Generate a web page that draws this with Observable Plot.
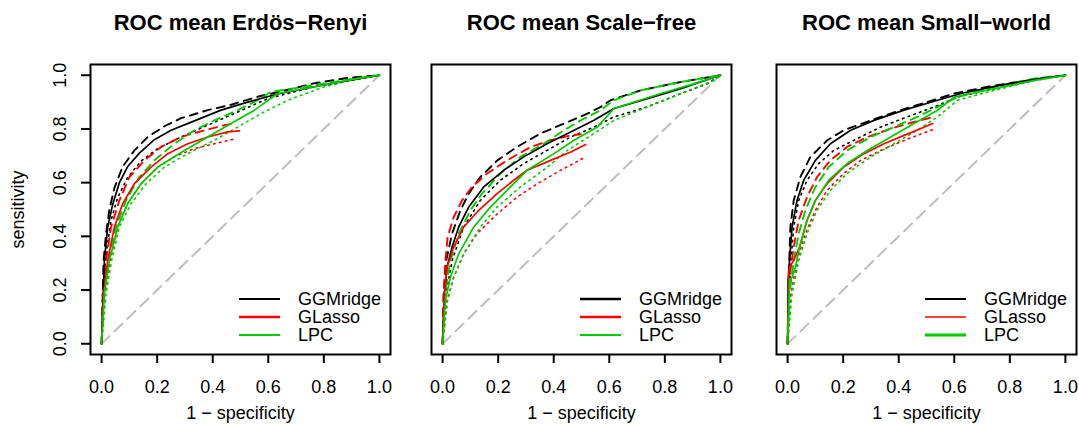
<!DOCTYPE html>
<html><head><meta charset="utf-8">
<script src="https://cdn.jsdelivr.net/npm/d3@7"></script>
<script src="https://cdn.jsdelivr.net/npm/@observablehq/plot@0.6"></script>
<style>
body{margin:0;background:#fff;}
#wrap{position:relative;width:1079px;height:425px;overflow:hidden;background:#fff;}
#wrap svg{position:absolute;top:0;}
</style></head><body><div id="wrap"></div>
<script>
// ---------- data ----------
const titles = ["ROC mean Erdös−Renyi", "ROC mean Scale−free", "ROC mean Small−world"];
const methods = ["GGMridge", "GLasso", "LPC"];
const methodColors = ["#000000", "#FF0000", "#00CD00"];
const lineStyles = ["solid", "dashed", "dotted"];
const xTicks = [0, 0.2, 0.4, 0.6, 0.8, 1.0];
const yTicks = [0, 0.2, 0.4, 0.6, 0.8, 1.0];
const xLabel = "1 − specificity";
const yLabel = "sensitivity";
const chanceLine = [0, 1];

// curves: [1 - specificity, sensitivity]
// Erdös-Renyi
const er_GGMridge_solid = [[0,0],[.010,.31],[.022,.435],[.040,.52],[.064,.60],[.094,.66],[.136,.71],[.190,.76],[.250,.795],[.334,.83],[.430,.87],[.526,.90],[.634,.93],[.766,.957],[.886,.98],[1,1]];
const er_GGMridge_dashed = [[0,0],[.007,.31],[.016,.41],[.028,.50],[.046,.58],[.076,.66],[.118,.72],[.166,.77],[.226,.81],[.286,.84],[.382,.87],[.466,.89],[.562,.92],[.646,.94],[.766,.97],[.886,.99],[1,1]];
const er_GGMridge_dotted = [[0,0],[.004,.19],[.016,.335],[.034,.46],[.058,.545],[.094,.62],[.142,.68],[.202,.727],[.286,.77],[.382,.814],[.490,.863],[.598,.913],[.766,.957],[1,1]];
const er_GLasso_solid = [[0,0],[.007,.186],[.022,.31],[.046,.435],[.076,.522],[.118,.596],[.178,.658],[.238,.708],[.310,.745],[.382,.770],[.454,.789],[.496,.793]];
const er_GLasso_dashed = [[0,0],[.005,.186],[.016,.31],[.034,.435],[.064,.534],[.100,.621],[.154,.683],[.214,.733],[.286,.770],[.370,.795],[.442,.814],[.478,.820]];
const er_GLasso_dotted = [[0,0],[.012,.186],[.031,.31],[.058,.435],[.094,.522],[.142,.596],[.202,.658],[.262,.696],[.334,.727],[.406,.745],[.484,.764]];
const er_LPC_solid = [[0,0],[.010,.186],[.028,.31],[.058,.435],[.094,.522],[.142,.596],[.202,.658],[.298,.720],[.382,.770],[.466,.820],[.550,.870],[.634,.932],[.766,.957],[.886,.981],[1,1]];
const er_LPC_dashed = [[0,0],[.007,.186],[.024,.31],[.052,.435],[.088,.534],[.136,.621],[.190,.683],[.262,.745],[.334,.795],[.406,.832],[.490,.870],[.562,.907],[.610,.938],[.766,.963],[.910,.988],[1,1]];
const er_LPC_dotted = [[0,0],[.016,.186],[.036,.31],[.064,.435],[.106,.522],[.160,.596],[.226,.658],[.310,.708],[.406,.758],[.490,.807],[.574,.857],[.670,.907],[.802,.957],[.922,.988],[1,1]];
// Scale-free
const sf_GGMridge_solid = [[0,0],[.006,.186],[.016,.286],[.034,.360],[.058,.435],[.094,.509],[.148,.584],[.220,.646],[.292,.696],[.376,.745],[.461,.789],[.545,.832],[.617,.876],[.737,.913],[.858,.950],[1,1]];
const sf_GGMridge_dashed = [[0,0],[.004,.186],[.013,.31],[.034,.41],[.064,.497],[.094,.559],[.136,.621],[.197,.683],[.268,.733],[.352,.783],[.437,.820],[.521,.857],[.569,.882],[.605,.907],[.714,.944],[.858,.975],[1,1]];
const sf_GGMridge_dotted = [[0,0],[.013,.186],[.034,.31],[.076,.435],[.136,.534],[.208,.609],[.292,.671],[.376,.720],[.461,.770],[.545,.807],[.617,.845],[.737,.882],[.858,.932],[.954,.969],[1,1]];
const sf_GLasso_solid = [[0,0],[.006,.186],[.016,.286],[.040,.360],[.076,.435],[.130,.497],[.196,.559],[.256,.609],[.304,.646],[.389,.683],[.461,.714],[.515,.742]];
const sf_GLasso_dashed = [[0,0],[.004,.186],[.010,.31],[.018,.397],[.040,.472],[.070,.534],[.106,.584],[.160,.634],[.232,.683],[.317,.733],[.389,.758],[.461,.776],[.497,.780]];
const sf_GLasso_dotted = [[0,0],[.016,.161],[.040,.248],[.076,.335],[.124,.410],[.197,.484],[.269,.547],[.341,.596],[.425,.646],[.515,.696]];
const sf_LPC_solid = [[0,0],[.010,.161],[.028,.248],[.058,.335],[.112,.435],[.172,.509],[.244,.584],[.304,.646],[.401,.708],[.473,.758],[.557,.807],[.617,.876],[.786,.932],[.906,.969],[1,1]];
const sf_LPC_dashed = [[0,0],[.008,.186],[.028,.31],[.058,.41],[.100,.497],[.142,.559],[.208,.634],[.280,.696],[.364,.745],[.437,.795],[.497,.832],[.569,.870],[.617,.907],[.714,.944],[.858,.975],[1,1]];
const sf_LPC_dotted = [[0,0],[.018,.161],[.040,.248],[.076,.335],[.136,.435],[.196,.509],[.280,.584],[.377,.658],[.449,.720],[.545,.783],[.617,.832],[.737,.882],[.858,.932],[.978,.981],[1,1]];
// Small-world
const sw_GGMridge_solid = [[0,0],[.002,.236],[.007,.310],[.016,.435],[.034,.534],[.058,.609],[.100,.683],[.154,.745],[.227,.795],[.311,.832],[.419,.870],[.540,.907],[.624,.932],[.769,.963],[.913,.988],[1,1]];
const sw_GGMridge_dashed = [[0,0],[.004,.248],[.010,.435],[.022,.534],[.046,.621],[.082,.696],[.143,.758],[.202,.795],[.299,.832],[.407,.870],[.504,.901],[.600,.932],[.720,.957],[.865,.981],[1,1]];
const sw_GGMridge_dotted = [[0,0],[.005,.186],[.012,.310],[.022,.435],[.040,.534],[.070,.609],[.112,.671],[.166,.720],[.251,.764],[.335,.807],[.431,.845],[.528,.882],[.612,.919],[.745,.950],[.889,.981],[1,1]];
const sw_GLasso_solid = [[0,0],[.004,.261],[.007,.286],[.022,.310],[.043,.360],[.070,.460],[.100,.534],[.142,.596],[.202,.658],[.275,.708],[.347,.745],[.419,.776],[.478,.801],[.522,.820]];
const sw_GLasso_dashed = [[0,0],[.005,.186],[.010,.273],[.022,.360],[.040,.460],[.070,.547],[.106,.621],[.154,.683],[.214,.733],[.287,.770],[.371,.801],[.455,.826],[.516,.842]];
const sw_GLasso_dotted = [[0,0],[.012,.186],[.034,.310],[.064,.410],[.100,.497],[.142,.571],[.202,.634],[.263,.683],[.335,.720],[.407,.752],[.467,.776],[.522,.797]];
const sw_LPC_solid = [[0,0],[.007,.236],[.016,.248],[.028,.286],[.043,.360],[.070,.460],[.100,.534],[.148,.609],[.214,.671],[.287,.720],[.371,.770],[.455,.820],[.540,.870],[.600,.919],[.745,.950],[.889,.981],[1,1]];
const sw_LPC_dashed = [[0,0],[.007,.186],[.022,.310],[.040,.410],[.064,.497],[.100,.584],[.148,.658],[.214,.720],[.299,.770],[.383,.807],[.467,.845],[.540,.882],[.612,.919],[.745,.957],[.889,.988],[1,1]];
const sw_LPC_dotted = [[0,0],[.016,.186],[.040,.310],[.070,.410],[.106,.497],[.154,.571],[.214,.634],[.299,.696],[.383,.745],[.467,.795],[.540,.845],[.612,.907],[.745,.944],[.889,.981],[1,1]];

// ---------- layout ----------
const panels = [
  {title: titles[0], boxLeft: 90, showY: true, legendWidths: [2, 2.7, 1.8],
   curves: {GGMridge: {solid: er_GGMridge_solid, dashed: er_GGMridge_dashed, dotted: er_GGMridge_dotted},
            GLasso: {solid: er_GLasso_solid, dashed: er_GLasso_dashed, dotted: er_GLasso_dotted},
            LPC: {solid: er_LPC_solid, dashed: er_LPC_dashed, dotted: er_LPC_dotted}}},
  {title: titles[1], boxLeft: 431, showY: false, legendWidths: [2.3, 2.6, 2],
   curves: {GGMridge: {solid: sf_GGMridge_solid, dashed: sf_GGMridge_dashed, dotted: sf_GGMridge_dotted},
            GLasso: {solid: sf_GLasso_solid, dashed: sf_GLasso_dashed, dotted: sf_GLasso_dotted},
            LPC: {solid: sf_LPC_solid, dashed: sf_LPC_dashed, dotted: sf_LPC_dotted}}},
  {title: titles[2], boxLeft: 776, showY: false, legendWidths: [1.8, 1.6, 2.8],
   curves: {GGMridge: {solid: sw_GGMridge_solid, dashed: sw_GGMridge_dashed, dotted: sw_GGMridge_dotted},
            GLasso: {solid: sw_GLasso_solid, dashed: sw_GLasso_dashed, dotted: sw_GLasso_dotted},
            LPC: {solid: sw_LPC_solid, dashed: sw_LPC_dashed, dotted: sw_LPC_dotted}}}
];
const dashFor = {solid: null, dashed: "8,6", dotted: "1.6,4.4"};
const ML = 90, MT = 64, MB = 71, BOX = 300, MR = 8;
const fmt = d3.format(".1f");
const FONT = "'Liberation Sans', Arial, Helvetica, sans-serif";

function legendMark(widths) {
  return (index, scales, values, dims) => {
    const g = d3.create("svg:g");
    const right = dims.width - dims.marginRight;
    const bottom = dims.height - dims.marginBottom;
    const rows = [-55, -37, -19];
    methods.forEach((m, i) => {
      const y = bottom + rows[i];
      g.append("line").attr("x1", right - 151).attr("x2", right - 110)
        .attr("y1", y).attr("y2", y)
        .attr("stroke", methodColors[i]).attr("stroke-width", widths[i]);
      g.append("text").attr("x", right - 92).attr("y", y).attr("dy", "0.35em")
        .attr("text-anchor", "start")
        .attr("font-size", 18).attr("fill", "black").text(m);
    });
    return g.node();
  };
}

const wrap = document.getElementById("wrap");
panels.forEach(p => {
  const marks = [];
  marks.push(Plot.line(chanceLine, {x: d => d, y: d => d, stroke: "#BEBEBE", strokeWidth: 2, strokeDasharray: "11,7"}));
  ["dotted", "dashed", "solid"].forEach(style => {
    methods.forEach((m, i) => {
      marks.push(Plot.line(p.curves[m][style], {
        x: d => d[0], y: d => d[1], stroke: methodColors[i],
        strokeWidth: style === "dashed" ? 1.9 : (style === "dotted" ? 1.6 : 1.7),
        strokeDasharray: dashFor[style] || undefined,
        strokeLinejoin: "round"
      }));
    });
  });
  marks.push(Plot.frame({stroke: "black", strokeWidth: 2}));
  marks.push(Plot.axisX({ticks: xTicks, tickSize: 9, tickPadding: 17, tickFormat: fmt, label: null, fontSize: 18, strokeWidth: 2}));
  marks.push(Plot.text([xLabel], {frameAnchor: "bottom", dy: 59, text: d => d, fontSize: 18, lineAnchor: "middle", textAnchor: "middle"}));
  marks.push(Plot.text([p.title], {frameAnchor: "top", dy: -42, text: d => d, fontSize: 22, fontWeight: "bold", lineAnchor: "middle", textAnchor: "middle"}));
  if (p.showY) {
    marks.push(Plot.axisY({ticks: yTicks, tickSize: 9, tickFormat: () => "", label: null, strokeWidth: 2}));
    marks.push(Plot.text(yTicks, {frameAnchor: "left", y: d => d, text: d => fmt(d), rotate: -90, dx: -30, fontSize: 18, lineAnchor: "middle", textAnchor: "middle"}));
    marks.push(Plot.text([yLabel], {frameAnchor: "left", text: d => d, rotate: -90, dx: -72, fontSize: 18, lineAnchor: "middle", textAnchor: "middle"}));
  }
  marks.push(legendMark(p.legendWidths));
  const svg = Plot.plot({
    width: ML + BOX + MR, height: 425,
    marginLeft: ML, marginRight: MR, marginTop: MT, marginBottom: MB,
    style: {background: "transparent", fontFamily: FONT, fontSize: "18px", color: "black", overflow: "visible"},
    x: {domain: [-0.04, 1.04], axis: null},
    y: {domain: [-0.04, 1.04], axis: null},
    marks
  });
  svg.style.left = (p.boxLeft - ML) + "px";
  wrap.appendChild(svg);
});
</script></body></html>
